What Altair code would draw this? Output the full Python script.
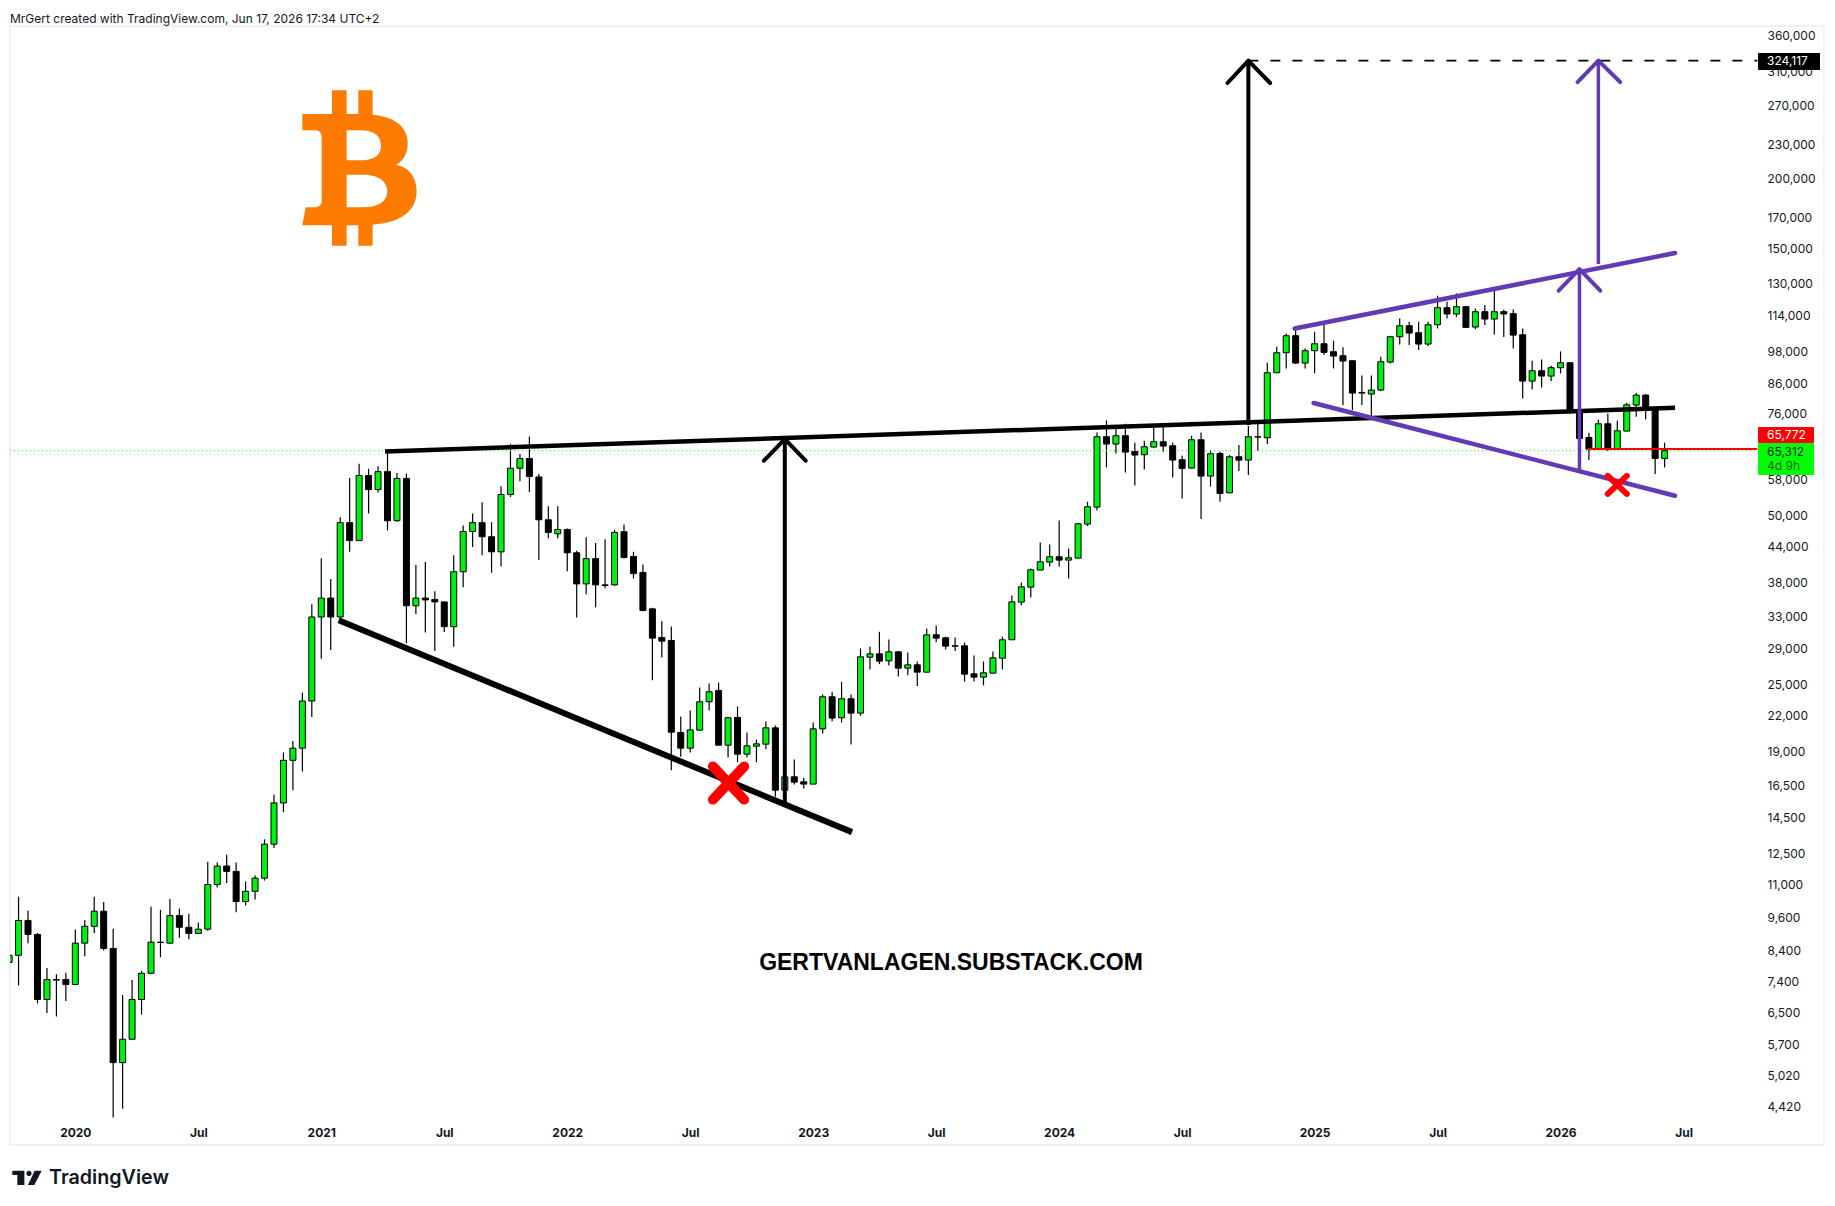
import altair as alt
import pandas as pd

# ---- two-week BTC candles ----
colours = ("GGKKGKKGGG" "KKGGGGKGKK" "GGGKKGGGGG" "GGGGKGKGKG" "KGKGKKKGGG" "KKGGGKKKGK"
           "KGKKGKKKKK" "KKGGGKGKGG" "GKGKKGGKGK" "GGKGKGKGKK" "KKKGGGGGGG" "GKGGGGKGKK"
           "GGKKKGKGKG" "KGKGGGKGGK" "KKKKGGGGKK" "GGKGKGKGKK" "KGKGGKKKGK" "GGGKKG")
highs = [8227,10465,9877,9017,7810,7611,7656,9141,9510,10465,10239,9175,6986,7432,7718,10036,9917,10362,9956,9760,
 9416,12083,12036,12425,12036,11137,11426,13242,15906,18914,19840,24176,34760,42017,38565,49684,58406,61882,60658,61267,
 65558,59578,59459,40858,41355,36690,35105,42524,48030,50486,52851,48702,56459,67178,64525,69199,59346,52016,52016,47455,
 43293,45785,44705,45420,47172,48258,43130,40943,34267,32442,31740,21936,22485,24713,25114,25214,21909,22857,20534,19953,
 21485,21135,17473,18382,17049,21396,24012,24276,25285,24012,28999,29235,31052,30091,28684,28522,27487,31481,31872,30422,
 30337,29717,28174,27487,28640,30422,36049,38024,40275,44811,44450,49055,43728,48456,52965,70411,73969,71776,72961,67488,
 68047,72074,72566,67570,63980,69457,70411,65490,65030,64150,66840,72260,73560,93730,100100,105730,108220,99420,106450,109710,
 102600,99840,94510,88980,88980,96080,104730,112450,110920,110920,110920,123420,120420,124610,117980,117160,118780,126680,116690,116690,
 107920,94510,95030,92590,98200,93730,79530,70310,74270,76120,73860,79530,82860,82410,77380,67480]
body_tops = [8227,9492,9492,8963,7446,7446,7446,8647,9266,9858,9858,8460,5827,6862,7641,8682,8682,9682,9682,9230,
 9158,11000,11868,11868,11610,10698,11292,12983,15377,18320,19256,23373,33000,35663,35663,48610,48610,58990,58990,59935,
 59935,58287,58287,35663,35663,35458,35105,39738,46890,48610,48610,45877,54578,60777,63253,63253,58638,49190,47270,47270,
 42951,41933,41933,37650,46700,46824,42310,39624,34120,30337,29966,20534,20760,23298,24276,24408,21819,21851,19440,19601,
 20932,20932,17120,17120,16771,20847,23782,23782,23588,23588,28019,28365,28365,28600,28600,27113,27113,30671,30671,30297,
 29316,29316,26129,26238,27905,30048,35120,37353,40059,41396,42254,42254,42082,48390,51893,69173,69173,69457,69457,65124,
 66384,67763,67763,66660,62940,68323,68323,64506,64590,63715,63715,69170,69170,89960,97670,104730,104730,98480,101330,101330,
 98080,96470,94510,82970,83780,94120,104300,109110,109110,106020,109570,117490,117490,117980,117980,115580,115580,115580,115580,114650,
 105150,90710,90710,91840,93730,93730,77060,68980,72950,72950,70890,78880,82070,82070,77160,65312]
body_bottoms = [7985,8227,8963,6862,6862,7430,7298,7298,8647,9266,8460,5295,5295,5827,6862,7641,8670,8647,9230,9000,
 9000,9158,11000,11610,10259,10259,10698,11292,12983,15377,18320,19256,23373,33000,33000,33000,45155,45155,55678,55678,
 48995,48995,34552,34552,35389,35105,31714,31714,39738,46890,45877,43119,43119,54578,60777,58757,49190,46700,46429,42951,
 37801,37801,37650,37550,37650,42138,39460,33895,30255,29884,20563,19255,19255,20732,23298,19492,19492,18790,18790,19414,
 19575,16204,16204,16749,16614,16614,20847,21786,21819,22238,22238,27979,27525,27562,26744,26744,26309,26309,30255,29277,
 29277,26095,25775,25775,26200,27865,30048,35072,37302,40003,41340,41681,41681,42022,48323,51820,67122,67122,64950,64155,
 64247,66295,66570,62855,60735,60820,58855,58855,54800,54950,62845,62845,69070,68880,89960,97670,93600,93600,98480,97800,
 96340,94380,82750,82750,82410,83780,93990,104300,105880,101200,101200,109570,114490,114490,108370,108520,112140,112140,114490,105000,
 86930,86930,88740,88740,91840,77060,68690,65750,65930,65930,65930,70790,78770,77160,63280,63280]
lows = [7985,7270,8647,6753,6489,6398,6821,7298,8194,9017,8393,4227,4381,5827,6450,7611,8161,8613,8837,8786,
 9000,9101,10868,11069,9819,10096,10341,11180,12777,14805,16193,17498,21885,27800,28817,32806,43119,45155,50486,55029,
 47080,48800,29631,33399,30961,28701,31026,29214,37281,43986,42524,39578,40618,54024,57591,55128,41684,45605,45605,39818,
 32937,36245,34345,37134,37503,41965,38653,33800,25457,27942,17594,18584,18918,20732,22485,19492,18534,18183,18534,18183,
 19175,15766,15658,16590,16315,16614,20451,21513,21396,19547,21996,26598,27187,27038,25846,25986,24848,26275,29756,28880,
 28684,25320,25320,24916,26166,26598,30048,34642,35752,40003,40607,40607,38653,42022,47927,51116,60988,64597,59752,56640,
 60487,66115,65040,58536,53697,60735,49325,56410,52950,54800,60070,59090,65312,67110,89960,91580,93230,91580,89730,96730,
 91580,78770,77160,78770,74570,83430,93480,101060,100790,98740,100380,107920,112450,113070,108220,107630,109420,105300,104150,99420,
 80950,84000,84700,86930,89730,75920,60320,62845,65930,65230,65930,70790,75090,74270,59340,60980]

# ---- axis labels ----
x_tick_bars = [7, 20, 33, 46, 59, 72, 85, 98, 111, 124, 138, 151, 164, 177]
x_tick_labels = ["2020","Jul","2021","Jul","2022","Jul","2023","Jul","2024","Jul","2025","Jul","2026","Jul"]
y_ticks = [360000,310000,270000,230000,200000,170000,150000,130000,114000,98000,86000,76000,58000,50000,44000,
           38000,33000,29000,25000,22000,19000,16500,14500,12500,11000,9600,8400,7400,6500,5700,5020,4420]

# ---- drawn lines (bar number, price) ----
black_top = ([39.74, 176.1], [65090, 77900])
black_low = ([34.84, 89.1], [32570, 13640])
purple_up = ([135.9, 176.1], [107900, 147050])
purple_dn = ([137.9, 176.1], [79430, 54280])
arrow1_shaft = ([82, 82], [15430, 68510])
arrow1_head = ([79.8, 82, 84.2], [62680, 68510, 62680])
arrow2_shaft = ([131, 131], [72590, 324117])
arrow2_head = ([128.8, 131, 133.3], [295600, 324117, 295600])
arrow3_shaft = ([166, 166], [60170, 137700])
arrow3_head = ([163.8, 166, 168.2], [125970, 137700, 125970])
arrow4_shaft = ([168, 168], [140530, 324117])
arrow4_head = ([165.8, 168, 170.3], [296800, 324117, 296800])
cross_big_a = ([74.4, 77.7], [17860, 15590])
cross_big_b = ([74.4, 77.7], [15590, 17860])
cross_small_a = ([169.0, 171.0], [58900, 54700])
cross_small_b = ([169.0, 171.0], [54700, 58900])

PURPLE = "#6339b5"
GREEN = "#00f010"
FONT = "Inter"

line_specs = [
    (black_top, "#000000", 4.5, "butt"), (black_low, "#000000", 6, "butt"),
    (arrow1_shaft, "#000000", 4, "butt"), (arrow1_head, "#000000", 4, "round"),
    (arrow2_shaft, "#000000", 4, "butt"), (arrow2_head, "#000000", 4, "round"),
    (purple_up, PURPLE, 4.5, "round"), (purple_dn, PURPLE, 4.5, "round"),
    (arrow3_shaft, PURPLE, 3.5, "butt"), (arrow3_head, PURPLE, 4, "round"),
    (arrow4_shaft, PURPLE, 3.5, "butt"), (arrow4_head, PURPLE, 4, "round"),
    (cross_big_a, "#ff0000", 10, "round"), (cross_big_b, "#ff0000", 10, "round"),
    (cross_small_a, "#ff0000", 6, "round"), (cross_small_b, "#ff0000", 6, "round"),
]

n = len(colours)
df = pd.DataFrame({"i": list(range(n)), "high": highs[:n], "low": lows[:n], "top": body_tops[:n],
                   "bottom": body_bottoms[:n], "c": list(colours)})

x_scale = alt.Scale(domain=[0.095, 191.85], nice=False, zero=False, padding=0)
y_scale = alt.Scale(type="log", domain=[3775, 373560], nice=False, zero=False)

label_expr = "[" + ",".join(f"'{t}'" for t in x_tick_labels) + "][indexof(" + str(x_tick_bars) + ", datum.value)]"
x_axis = alt.Axis(
    values=x_tick_bars, labelExpr=label_expr, title=None, grid=False, domain=False, ticks=False,
    orient="bottom", offset=-18, labelPadding=0, labelFont=FONT, labelFontSize=12, labelColor="#131722",
    labelFlush=False, labelOverlap=False,
    labelFontWeight={"condition": {"test": "datum.label == 'Jul'", "value": 400}, "value": 700})
y_axis = alt.Axis(
    values=y_ticks, format=",d", title=None, grid=False, domain=False, ticks=False,
    orient="right", offset=-57, labelPadding=0, labelAlign="left", labelFont=FONT, labelFontSize=12,
    labelColor="#131722", labelFlush=False, labelOverlap=False)

def X(field="i"):
    return alt.X(f"{field}:Q", scale=x_scale, axis=x_axis)

def Y(field="p"):
    return alt.Y(f"{field}:Q", scale=y_scale, axis=y_axis)

wicks = alt.Chart(df).mark_rule(color="#000000", strokeWidth=1.2, clip=True).encode(
    x=X(), y=Y("high"), y2="low:Q")
bodies = alt.Chart(df).mark_bar(size=6, stroke="#000000", strokeWidth=1, clip=True).encode(
    x=X(), y=Y("top"), y2="bottom:Q",
    fill=alt.Color("c:N", scale=alt.Scale(domain=["G", "K"], range=[GREEN, "#000000"]), legend=None),
)

def one_rule(price, x0=None, x1=None, color="#000000", width=1.0, dash=None):
    d = pd.DataFrame({"p": [price], "a": [x0], "b": [x1]})
    kw = {"color": color, "strokeWidth": width}
    if dash:
        kw["strokeDash"] = dash
    return alt.Chart(d).mark_rule(**kw).encode(x=X("a"), x2="b:Q", y=Y())

last_close = 65312
red_level = 65772
target = 324117
dotted = alt.Chart(pd.DataFrame({"p": [last_close]})).mark_rule(
    color="#00ff00", strokeWidth=1, strokeDash=[1, 3]).encode(
    x=alt.value(0), x2=alt.value(1748), y=Y())
red_line = one_rule(red_level, 166.9, 184.8, "#ff0000", 2)
dashed = one_rule(target, 131, 184.8, "#000000", 1.7, [10, 12])

line_layers = []
for (xs, ps), col, w, cap in line_specs:
    d = pd.DataFrame({"i": xs, "p": ps, "k": list(range(len(xs)))})
    line_layers.append(alt.Chart(d).mark_line(color=col, strokeWidth=w, strokeCap=cap, strokeJoin="round", clip=True).encode(
        x=X(), y=Y(), order=alt.Order("k:Q")))

def pixel_text(txt, x, y, size, color="#131722", weight=400, font=FONT, align="left"):
    return alt.Chart(pd.DataFrame({"t": [txt]})).mark_text(
        align=align, baseline="middle", fontSize=size, font=font, fontWeight=weight, color=color).encode(
        x=alt.value(x), y=alt.value(y), text="t:N")

def tag(x0, x1, y0, y1, color):
    return alt.Chart(pd.DataFrame({"a": [0]})).mark_rect(color=color, cornerRadius=1).encode(
        x=alt.value(x0), x2=alt.value(x1), y=alt.value(y0), y2=alt.value(y1))

BTC_PATH = ("M-.721,-.675 L-.35,-.675 L-.35,-.971 L-.167,-.971 L-.167,-.675 L-.021,-.675 L-.021,-.971 L.158,-.971 "
            "L.158,-.667 C.458,-.638 .596,-.5 .596,-.3125 C.596,-.1875 .542,-.083 .45,-.042 "
            "C.604,-.0125 .708,.104 .708,.292 C.708,.542 .5,.688 .158,.708 L.158,.971 L-.021,.971 L-.021,.717 "
            "L-.167,.717 L-.167,.971 L-.35,.971 L-.35,.717 L-.721,.717 L-.679,.492 L-.5625,.492 "
            "C-.508,.492 -.479,.458 -.479,.417 L-.479,-.375 C-.479,-.4375 -.508,-.471 -.5625,-.471 L-.721,-.471 Z "
            "M-.167,-.471 L-.167,-.096 L0,-.096 C.1875,-.096 .2625,-.167 .2625,-.279 C.2625,-.396 .1875,-.471 0,-.471 Z "
            "M-.167,.083 L-.167,.492 L.042,.492 C.229,.492 .342,.417 .342,.292 C.342,.167 .229,.083 .042,.083 Z")
TV_PATH = ("M-.96,-.478 L-.17,-.478 L-.17,.457 L-.63,.457 L-.63,-.196 L-.96,-.196 Z "
           "M-.04,-.30 a.17,.17 0 1 0 .34,0 a.17,.17 0 1 0 -.34,0 Z "
           "M.50,-.478 L.957,-.478 L.478,.457 L.06,.457 Z")

def glyph(path, x, y, size, color):
    return alt.Chart(pd.DataFrame({"a": [0]})).mark_point(
        shape=path, size=size, filled=True, opacity=1, color=color, strokeWidth=0).encode(
        x=alt.value(x), y=alt.value(y))

annotations = [
    glyph(BTC_PATH, 350, 142, 25600, "#ff7b00"),
    pixel_text("GERTVANLAGEN.SUBSTACK.COM", 941, 937, 23, "#000000", 700, "Liberation Sans", "center"),
    tag(1748, 1810, 27, 44, "#000000"), pixel_text("324,117", 1757, 35, 12, "#ffffff"),
    tag(1748, 1804, 401, 417, "#ff0000"), pixel_text("65,772", 1757, 409, 12, "#ffffff"),
    tag(1748, 1804, 417, 449, "#00ff00"), pixel_text("65,312", 1757, 425.5, 12, "#131722"),
    pixel_text("4d 9h", 1757, 439.5, 12, "#0c5f12"),
    pixel_text("MrGert created with TradingView.com, Jun 17, 2026 17:34 UTC+2", 0, -7.5, 12, "#131722"),
    glyph(TV_PATH, 17, 1152, 940, "#131722"),
    pixel_text("TradingView", 39, 1152, 19.7, "#131722", 600),
]

chart = alt.layer(wicks, dotted, bodies, red_line, dashed, *line_layers, *annotations).properties(
    width=1814, height=1119,
    autosize=alt.AutoSizeParams(type="none"),
    padding={"left": 2, "top": 18, "right": 3, "bottom": 50},
    background="#ffffff",
).resolve_scale(x="shared", y="shared").configure_view(stroke="#eef0f6", strokeWidth=2)

chart.save("out.html", embed_options={"renderer": "svg", "actions": False})
